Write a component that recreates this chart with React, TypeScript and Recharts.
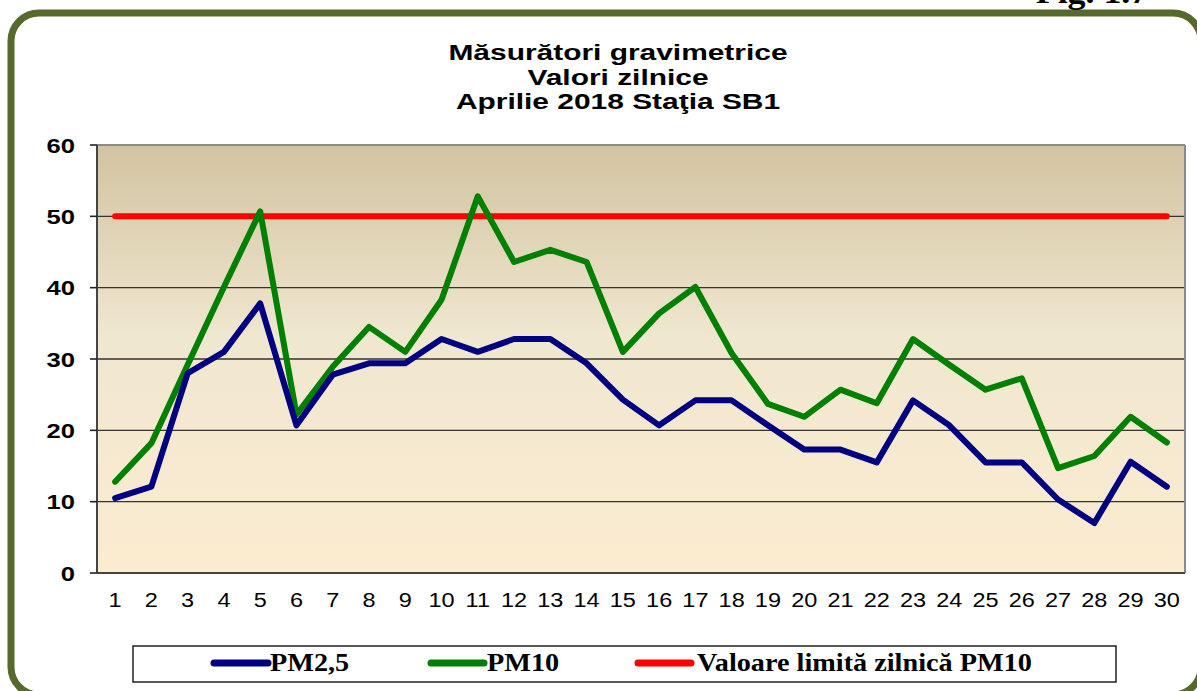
import { LineChart, Line, XAxis, YAxis, CartesianGrid, ReferenceLine } from "recharts";

const days = [1, 2, 3, 4, 5, 6, 7, 8, 9, 10, 11, 12, 13, 14, 15, 16, 17, 18, 19, 20, 21, 22, 23, 24, 25, 26, 27, 28, 29, 30];
const pm25 = [10.5, 12.1, 28.0, 31.0, 37.8, 20.7, 27.8, 29.4, 29.4, 32.8, 31.0, 32.8, 32.8, 29.4, 24.3, 20.7, 24.2, 24.2, 20.7, 17.3, 17.3, 15.5, 24.2, 20.7, 15.5, 15.5, 10.3, 7.0, 15.6, 12.1];
const pm10 = [12.8, 18.2, 29.2, 40.1, 50.7, 22.2, 28.9, 34.5, 31.0, 38.3, 52.8, 43.6, 45.3, 43.6, 31.0, 36.4, 40.1, 30.8, 23.7, 21.9, 25.7, 23.8, 32.8, 29.2, 25.7, 27.3, 14.7, 16.4, 21.9, 18.3];
const limita = [50, 50, 50, 50, 50, 50, 50, 50, 50, 50, 50, 50, 50, 50, 50, 50, 50, 50, 50, 50, 50, 50, 50, 50, 50, 50, 50, 50, 50, 50];
const yTicks = [0, 10, 20, 30, 40, 50, 60];
const titleLines = ["Măsurători gravimetrice", "Valori zilnice", "Aprilie 2018 Staţia SB1"];
const seriesNames = ["PM2,5", "PM10", "Valoare limită zilnică PM10"];
const seriesColors = ["#000080", "#008000", "#ff0000"];

const data = days.map((d, i) => ({ day: d, pm25: pm25[i], pm10: pm10[i], limita: limita[i] }));
// tick marks sit between the days, like in Excel
const boundaries = [...days.map((d) => d - 0.5), days[days.length - 1] + 0.5];

const sans = "'Liberation Sans', Arial, sans-serif";
const serif = "'Liberation Serif', 'Times New Roman', serif";

const YTick = ({ x, y, payload }: any) => (
  <g transform={`translate(${x},${y})`}>
    <text transform="scale(1.22,1)" textAnchor="end" dy="0.36em" fontFamily={sans} fontWeight="bold" fontSize={21} fill="#000">
      {payload.value}
    </text>
  </g>
);

const XTick = ({ x, y, payload }: any) => (
  <g transform={`translate(${x},${y + 33})`}>
    <text transform="scale(1.12,1)" textAnchor="middle" fontFamily={sans} fontSize={21} fill="#000">
      {payload.value}
    </text>
  </g>
);

const legendPos = [
  { x1: 214, x2: 268, tx: 270 },
  { x1: 431, x2: 484, tx: 487 },
  { x1: 638, x2: 691, tx: 697 },
];

export default function App() {
  return (
    <div style={{ position: "absolute", left: 0, top: 0, width: 1197, height: 691, background: "#fff", overflow: "hidden" }}>
      <LineChart
        width={1197}
        height={691}
        data={data}
        margin={{ top: 145, right: 12, bottom: 0, left: 0 }}
        style={{ position: "absolute", left: 0, top: 0 }}
      >
        <CartesianGrid xAxisId="lab" vertical={false} stroke="#333" strokeWidth={1.4} fill="url(#bgGrad)" fillOpacity={1} />
        <XAxis
          xAxisId="grid"
          dataKey="day"
          type="number"
          domain={[0.5, 30.5]}
          ticks={boundaries}
          interval={0}
          height={1}
          tick={false}
          tickSize={7}
          tickLine={{ stroke: "#222", strokeWidth: 1.6 }}
          axisLine={{ stroke: "#444", strokeWidth: 2 }}
        />
        <XAxis
          xAxisId="lab"
          dataKey="day"
          type="number"
          domain={[0.5, 30.5]}
          ticks={days}
          interval={0}
          height={117}
          tickLine={false}
          axisLine={false}
          tickSize={0}
          tickMargin={0}
          tick={<XTick />}
        />
        <YAxis
          domain={[0, 60]}
          ticks={yTicks}
          interval={0}
          width={97}
          tickSize={7}
          tickMargin={15}
          tickLine={{ stroke: "#222", strokeWidth: 1.6 }}
          axisLine={{ stroke: "#444", strokeWidth: 2 }}
          tick={<YTick />}
        />
        <ReferenceLine xAxisId="lab" y={60} stroke="#8a8a8a" strokeWidth={2} />
        <ReferenceLine xAxisId="lab" x={30.5} stroke="#8a8a8a" strokeWidth={2} />
        <Line xAxisId="lab" dataKey="limita" name={seriesNames[2]} stroke={seriesColors[2]} strokeWidth={6} dot={false} strokeLinecap="round" isAnimationActive={false} />
        <Line xAxisId="lab" dataKey="pm10" name={seriesNames[1]} stroke={seriesColors[1]} strokeWidth={6} dot={false} strokeLinecap="round" strokeLinejoin="round" isAnimationActive={false} />
        <Line xAxisId="lab" dataKey="pm25" name={seriesNames[0]} stroke={seriesColors[0]} strokeWidth={6} dot={false} strokeLinecap="round" strokeLinejoin="round" isAnimationActive={false} />
      </LineChart>

      <svg width={1197} height={691} style={{ position: "absolute", left: 0, top: 0, pointerEvents: "none" }}>
        <defs>
          <linearGradient id="bgGrad" x1="0" y1="0" x2="0" y2="1">
            <stop offset="0" stopColor="#d2c3a0" />
            <stop offset="0.45" stopColor="#f0e7d0" />
            <stop offset="1" stopColor="#fcecd0" />
          </linearGradient>
        </defs>
        <rect x={11} y={13} width={1190} height={682} rx={28} ry={28} fill="none" stroke="#566a2b" strokeWidth={7} />
        <g transform="translate(1092,3) scale(1.12,1)">
          <text textAnchor="middle" fontFamily={serif} fontWeight="bold" fontSize={32} fill="#000">
            Fig. 1.7
          </text>
        </g>
        {titleLines.map((t, i) => (
          <g key={t} transform={`translate(618,${60 + i * 24.5}) scale(1.36,1)`}>
            <text textAnchor="middle" fontFamily={sans} fontWeight="bold" fontSize={22} fill="#000">
              {t}
            </text>
          </g>
        ))}
        <rect x={133} y={646} width={983} height={36} fill="#fff" stroke="#222" strokeWidth={1.5} />
        {seriesNames.map((n, i) => (
          <g key={n}>
            <line x1={legendPos[i].x1} x2={legendPos[i].x2} y1={663} y2={663} stroke={seriesColors[i]} strokeWidth={7} strokeLinecap="round" />
            <g transform={`translate(${legendPos[i].tx},671) scale(1.13,1)`}>
              <text fontFamily={serif} fontWeight="bold" fontSize={25} fill="#000">
                {n}
              </text>
            </g>
          </g>
        ))}
      </svg>
    </div>
  );
}
